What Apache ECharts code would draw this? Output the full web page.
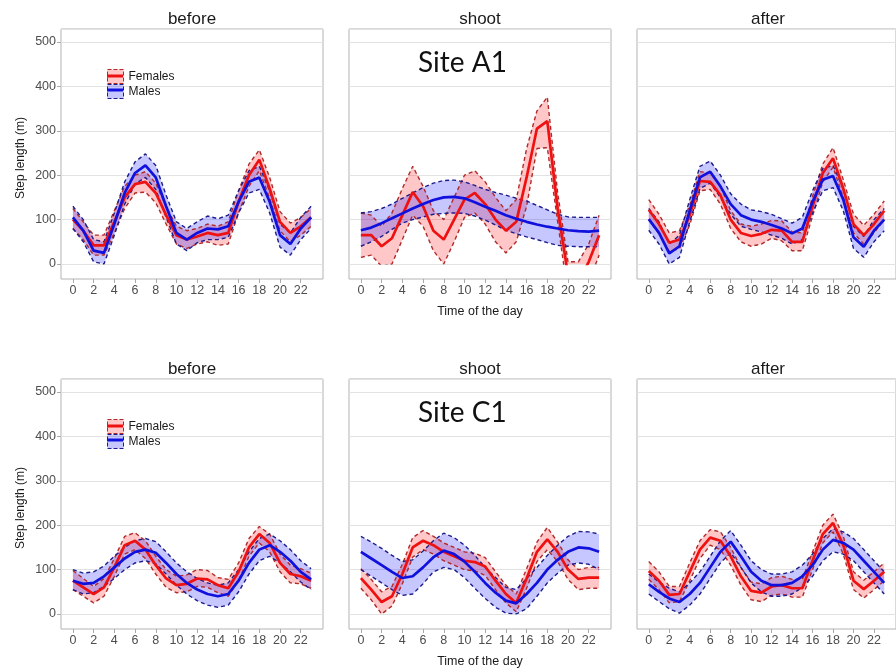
<!DOCTYPE html>
<html><head><meta charset="utf-8">
<script src="https://cdn.jsdelivr.net/npm/echarts@6/dist/echarts.min.js"></script>
<style>html,body{margin:0;padding:0;background:#fff}#c{width:896px;height:672px}</style>
</head><body><div id="c"></div><script>
// ---------- data ----------
const hours = [0,1,2,3,4,5,6,7,8,9,10,11,12,13,14,15,16,17,18,19,20,21,22,23];
const xTicks = [0,2,4,6,8,10,12,14,16,18,20,22];
const yTicks = [0,100,200,300,400,500];
const periods = ['before','shoot','after'];
const sites = ['Site A1','Site C1'];
const seriesNames = ['Females','Males'];

// Site A1 - before
const a1BeforeFemMean = [100,75,42,42,95,150,180,185,160,110,65,55,62,70,65,70,140,200,235,170,95,70,85,105];
const a1BeforeFemLow  = [80,55,20,20,70,125,160,162,138,90,45,35,45,50,42,45,115,175,210,148,75,50,65,85];
const a1BeforeFemUp   = [125,95,65,65,120,175,200,208,182,130,85,75,80,90,85,95,165,225,257,195,118,92,105,125];
const a1BeforeMalMean = [105,75,30,25,90,160,205,222,195,130,70,55,70,80,78,85,140,185,195,140,65,45,80,105];
const a1BeforeMalLow  = [80,50,5,0,65,135,180,195,168,105,45,30,48,55,55,60,115,160,168,115,38,20,55,80];
const a1BeforeMalUp   = [130,100,55,50,115,185,230,248,222,155,95,80,95,108,102,110,165,210,220,165,90,70,105,130];
// Site A1 - shoot
const a1ShootFemMean = [65,65,40,58,110,162,130,75,55,100,145,160,135,100,75,95,195,305,322,125,-25,-40,5,65];
const a1ShootFemLow  = [15,20,-5,0,55,110,85,30,0,50,105,115,90,50,25,50,130,260,262,95,-70,-90,-40,20];
const a1ShootFemUp   = [115,110,85,115,170,220,175,120,100,150,200,210,185,150,120,145,260,345,376,160,5,5,45,110];
const a1ShootMalMean = [76,82,92,103,114,125,135,144,150,151,148,139,129,120,110,102,95,89,84,80,76,74,73,75];
const a1ShootMalLow  = [40,50,62,78,92,100,106,112,114,115,114,108,99,88,76,68,61,55,48,42,40,39,39,39];
const a1ShootMalUp   = [115,118,125,135,148,160,172,182,188,189,185,177,168,161,155,148,142,132,122,112,106,105,105,105];
// Site A1 - after
const a1AfterFemMean = [122,90,48,55,110,187,185,155,100,70,63,68,77,75,50,50,130,205,238,170,90,65,90,120];
const a1AfterFemLow  = [100,68,28,35,88,165,168,135,80,50,40,45,58,52,30,30,108,185,218,150,70,45,70,100];
const a1AfterFemUp   = [145,112,70,75,132,208,205,175,120,90,85,90,98,97,72,70,152,225,262,190,112,87,112,142];
const a1AfterMalMean = [101,70,24,40,120,195,208,175,135,110,100,95,88,80,69,80,140,190,198,145,60,39,75,100];
const a1AfterMalLow  = [76,45,0,15,95,170,182,150,112,85,78,72,65,58,45,55,115,165,172,120,35,15,50,75];
const a1AfterMalUp   = [125,95,45,65,145,220,232,200,158,135,122,118,112,102,92,105,165,215,222,170,85,62,100,125];
// Site C1 - before
const c1BeforeFemMean = [75,60,45,60,105,155,165,145,110,80,65,68,80,78,65,58,95,150,180,160,115,90,85,75];
const c1BeforeFemLow  = [55,40,25,40,85,135,145,125,90,60,48,50,62,60,48,40,75,130,160,140,95,70,68,58];
const c1BeforeFemUp   = [98,80,62,80,125,175,183,165,130,100,85,88,100,98,82,78,115,170,197,180,135,110,102,92];
const c1BeforeMalMean = [75,68,70,85,105,125,140,145,138,115,90,70,55,45,40,45,75,115,145,155,140,120,95,78];
const c1BeforeMalLow  = [55,45,48,62,80,100,115,120,113,90,65,45,30,20,15,20,50,90,120,130,115,95,72,55];
const c1BeforeMalUp   = [100,92,95,108,130,150,165,170,163,140,115,95,80,70,65,70,100,140,170,180,165,145,120,102];
// Site C1 - shoot
const c1ShootFemMean = [81,55,27,40,90,150,165,155,140,130,120,117,107,75,45,25,80,140,168,140,100,79,82,82];
const c1ShootFemLow  = [58,32,0,18,68,128,145,135,120,110,100,97,87,55,25,5,58,118,145,118,78,55,58,58];
const c1ShootFemUp   = [102,78,50,62,112,172,188,175,160,150,140,137,127,95,65,45,102,162,195,162,122,100,105,105];
const c1ShootMalMean = [140,125,110,95,81,85,105,128,143,135,118,95,70,48,30,24,45,70,100,122,140,150,148,140];
const c1ShootMalLow  = [100,85,70,55,42,45,68,95,105,100,82,58,35,15,2,0,12,40,70,92,110,115,112,100];
const c1ShootMalUp   = [175,162,148,132,118,122,142,165,182,172,155,132,105,82,60,55,80,105,132,155,175,186,185,180];
// Site C1 - after
const c1AfterFemMean = [97,75,43,45,95,145,172,165,130,85,52,48,62,65,58,58,120,180,205,155,75,56,75,95];
const c1AfterFemLow  = [78,55,25,28,75,125,155,145,110,65,32,28,42,45,38,38,100,160,185,135,55,36,55,75];
const c1AfterFemUp   = [118,95,62,62,115,165,190,185,150,105,72,68,82,85,78,78,140,200,225,175,95,76,95,115];
const c1AfterMalMean = [67,50,35,27,45,70,105,140,163,130,95,75,65,65,70,85,110,145,167,160,145,120,95,70];
const c1AfterMalLow  = [45,28,12,2,20,45,80,115,138,105,70,50,40,40,45,60,85,120,140,135,120,95,70,45];
const c1AfterMalUp   = [90,72,58,50,70,95,130,165,188,155,120,100,90,90,95,110,135,170,192,185,170,145,120,95];

const panels = [
  {row:0,col:0,fm:a1BeforeFemMean,fl:a1BeforeFemLow,fu:a1BeforeFemUp,mm:a1BeforeMalMean,ml:a1BeforeMalLow,mu:a1BeforeMalUp},
  {row:0,col:1,fm:a1ShootFemMean,fl:a1ShootFemLow,fu:a1ShootFemUp,mm:a1ShootMalMean,ml:a1ShootMalLow,mu:a1ShootMalUp},
  {row:0,col:2,fm:a1AfterFemMean,fl:a1AfterFemLow,fu:a1AfterFemUp,mm:a1AfterMalMean,ml:a1AfterMalLow,mu:a1AfterMalUp},
  {row:1,col:0,fm:c1BeforeFemMean,fl:c1BeforeFemLow,fu:c1BeforeFemUp,mm:c1BeforeMalMean,ml:c1BeforeMalLow,mu:c1BeforeMalUp},
  {row:1,col:1,fm:c1ShootFemMean,fl:c1ShootFemLow,fu:c1ShootFemUp,mm:c1ShootMalMean,ml:c1ShootMalLow,mu:c1ShootMalUp},
  {row:1,col:2,fm:c1AfterFemMean,fl:c1AfterFemLow,fu:c1AfterFemUp,mm:c1AfterMalMean,ml:c1AfterMalLow,mu:c1AfterMalUp}
];

// ---------- style / layout ----------
const FONT = 'Liberation Sans, Arial, sans-serif';
const RED = '#ee1111', BLUE = '#1111dd';
const RED_FILL = 'rgba(255,0,0,0.22)', BLUE_FILL = 'rgba(0,0,255,0.22)';
const RED_DASH = '#b02a2a', BLUE_DASH = '#1c1c8a';
const colLeft = [61, 349, 637];
const panelW = 262;
const rowTop = [29, 379];
const frameH = 250;
const dataH = 235;

const pairs = arr => hours.map((h, i) => [h, arr[i]]);

const grids = [], xAxes = [], yAxes = [], series = [];
// frame grids (border, ticks, labels) – y range includes the padding below 0
panels.forEach((p, i) => {
  grids.push({left: colLeft[p.col], top: rowTop[p.row], width: panelW, height: frameH,
    show: true, borderColor: '#b3b3b3', borderWidth: 1, backgroundColor: 'rgba(0,0,0,0)'});
  xAxes.push({gridIndex: i, type: 'value', min: -1.15, max: 24.15, position: 'bottom',
    axisLine: {show: false, onZero: false},
    axisTick: {show: true, customValues: xTicks, length: 4, lineStyle: {color: '#aaaaaa'}},
    axisLabel: {customValues: xTicks, color: '#4d4d4d', fontSize: 12.5, fontFamily: FONT, margin: 5},
    splitLine: {show: false}});
  yAxes.push({gridIndex: i, type: 'value', min: -33.8, max: 529.3, position: 'left',
    axisLine: {show: false, onZero: false},
    axisTick: {show: p.col === 0, customValues: yTicks, length: 4, lineStyle: {color: '#aaaaaa'}},
    axisLabel: {show: p.col === 0, customValues: yTicks, color: '#4d4d4d', fontSize: 12.5, fontFamily: FONT, margin: 5},
    splitLine: {show: false}});
});
// data grids – clipped at y = 0
panels.forEach((p, i) => {
  const gi = 6 + i;
  grids.push({left: colLeft[p.col], top: rowTop[p.row], width: panelW, height: dataH});
  xAxes.push({gridIndex: gi, type: 'value', min: -1.15, max: 24.15,
    axisLine: {show: false, onZero: false}, axisTick: {show: false}, axisLabel: {show: false}, splitLine: {show: false}});
  yAxes.push({gridIndex: gi, type: 'value', min: 0, max: 529.3, interval: 100,
    axisLine: {show: false, onZero: false}, axisTick: {show: false}, axisLabel: {show: false},
    splitLine: {show: true, lineStyle: {color: '#e2e2e2', width: 1}}});

  const base = {xAxisIndex: gi, yAxisIndex: gi, silent: true};
  const band = (name, lo, up, fill) => Object.assign({}, base, {
    type: 'custom', name: name + ' band', z: 1,
    data: hours.map((h, k) => [h, lo[k], up[k]]),
    encode: {x: 0, y: [1, 2]},
    renderItem: (params, api) => {
      if (params.dataIndex !== 0) return null;
      const upper = hours.map((h, k) => api.coord([h, up[k]]));
      const lower = hours.map((h, k) => api.coord([h, lo[k]])).reverse();
      const cs = params.coordSys;
      return {type: 'polygon', shape: {points: upper.concat(lower)}, style: {fill: fill},
        clipPath: {type: 'rect', shape: {x: cs.x, y: cs.y, width: cs.width, height: cs.height}}};
    }
  });
  series.push(band('Females', p.fl, p.fu, RED_FILL));
  series.push(band('Males', p.ml, p.mu, BLUE_FILL));
  const lineBase = Object.assign({}, base, {type: 'line', symbol: 'none', clip: true});
  const dash = (name, arr, col) => Object.assign({}, lineBase, {name: name + ' CI', data: pairs(arr),
    lineStyle: {color: col, width: 1.4, type: [4, 3]}, itemStyle: {color: col}, z: 3});
  series.push(dash('Females', p.fl, RED_DASH), dash('Females', p.fu, RED_DASH));
  series.push(dash('Males', p.ml, BLUE_DASH), dash('Males', p.mu, BLUE_DASH));
  series.push(Object.assign({}, lineBase, {name: seriesNames[0], data: pairs(p.fm),
    lineStyle: {color: RED, width: 2.7}, itemStyle: {color: RED}, z: 5}));
  series.push(Object.assign({}, lineBase, {name: seriesNames[1], data: pairs(p.mm),
    lineStyle: {color: BLUE, width: 2.7}, itemStyle: {color: BLUE}, z: 6}));
});

const legends = [];
rowTop.forEach(t => {
  legends.push({orient: 'vertical', left: 107, top: t + 40, padding: 0, itemGap: 0,
    itemWidth: 16, itemHeight: 14, icon: 'rect', selectedMode: false,
    textStyle: {fontSize: 12, color: '#1a1a1a', fontFamily: FONT, lineHeight: 14},
    data: [
      {name: seriesNames[0], itemStyle: {color: RED_FILL, borderColor: RED_DASH, borderWidth: 1, borderType: 'dashed'}},
      {name: seriesNames[1], itemStyle: {color: BLUE_FILL, borderColor: BLUE_DASH, borderWidth: 1, borderType: 'dashed'}}
    ]});
  legends.push({orient: 'vertical', left: 107, top: t + 45.5, padding: 0, itemGap: 11,
    itemWidth: 16, itemHeight: 3, icon: 'path://M0 0H16V3H0Z', selectedMode: false,
    formatter: () => '',
    textStyle: {fontSize: 3, lineHeight: 3},
    data: [
      {name: seriesNames[0], itemStyle: {color: RED, borderWidth: 0}},
      {name: seriesNames[1], itemStyle: {color: BLUE, borderWidth: 0}}
    ]});
});

const graphics = [];
rowTop.forEach((t, r) => {
  periods.forEach((name, c) => {
    graphics.push({type: 'text', x: colLeft[c] + panelW / 2, y: t - 10,
      style: {text: name, fontSize: 17, fontFamily: FONT, fill: '#1a1a1a', textAlign: 'center', textVerticalAlign: 'middle'}});
  });
  graphics.push({type: 'text', x: 21, y: t + 129, rotation: Math.PI / 2,
    style: {text: 'Step length (m)', fontSize: 12, fontFamily: FONT, fill: '#1a1a1a', textAlign: 'center', textVerticalAlign: 'middle'}});
  graphics.push({type: 'text', x: colLeft[1] + panelW / 2, y: t + 283,
    style: {text: 'Time of the day', fontSize: 12.5, fontFamily: FONT, fill: '#1a1a1a', textAlign: 'center', textVerticalAlign: 'middle'}});
  graphics.push({type: 'text', x: 418, y: t + 34,
    style: {text: sites[r], fontSize: 28, fontFamily: 'Lato, Open Sans, sans-serif', fill: '#111111', textAlign: 'left', textVerticalAlign: 'middle'}});
});

const chart = echarts.init(document.getElementById('c'), null, {renderer: 'canvas'});
chart.setOption({
  animation: false,
  backgroundColor: '#ffffff',
  grid: grids, xAxis: xAxes, yAxis: yAxes, series: series,
  legend: legends, graphic: graphics
});
</script></body></html>
